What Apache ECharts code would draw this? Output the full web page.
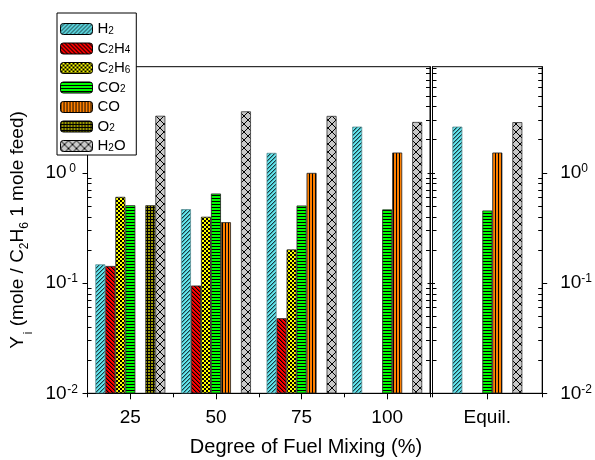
<!DOCTYPE html>
<html>
<head>
<meta charset="utf-8">
<script src="https://cdn.jsdelivr.net/npm/echarts@6/dist/echarts.min.js"></script>
<style>html,body{margin:0;padding:0;background:#fff}#c{width:595px;height:460px}</style>
</head>
<body>
<div id="c"></div>
<script>
// ---- data (last element of each species array = "Equil.") ----
const categories = ['25', '50', '75', '100'];
const equilCategories = ['Equil.'];
const species = ['H2', 'C2H4', 'C2H6', 'CO2', 'CO', 'O2', 'H2O'];
const H2   = [0.148, 0.469, 1.52, 2.63, 2.63];
const C2H4 = [0.143, 0.095, 0.048, null, null];
const C2H6 = [0.606, 0.40, 0.202, null, null];
const CO2  = [0.509, 0.65, 0.506, 0.466, 0.456];
const CO   = [null, 0.357, 1.0, 1.53, 1.53];
const O2   = [0.509, null, null, null, null];
const H2O  = [3.30, 3.62, 3.29, 2.90, 2.89];
const majorExponents = [-2, -1, 0];
const yMin = 0.01, yMax = 9.2;

const values = {H2, C2H4, C2H6, CO2, CO, O2, H2O};

// ---- patterns ----
function pattern(bg, size, draw) {
  const c = document.createElement('canvas');
  c.width = size; c.height = size;
  const ctx = c.getContext('2d');
  ctx.fillStyle = bg; ctx.fillRect(0, 0, size, size);
  ctx.fillStyle = '#000'; ctx.strokeStyle = '#000';
  draw(ctx, size);
  return {image: c, repeat: 'repeat'};
}
const fills = {
  H2: pattern('#62E6EF', 4, (x, s) => { x.fillStyle='#1b3b40'; for (let i = 0; i < s; i++) x.fillRect(i, s - 1 - i, 1, 1); x.fillStyle='rgba(0,0,0,0.3)'; for (let i = 0; i < s; i++) x.fillRect((i+1)%s, s - 1 - i, 1, 1); }),
  C2H4: pattern('#FF0000', 4, (x, s) => { for (let i = 0; i < s; i++) x.fillRect(i, i, 1, 1); x.fillStyle='rgba(0,0,0,0.35)'; for (let i = 0; i < s; i++) x.fillRect((i+1)%s, i, 1, 1); }),
  C2H6: pattern('#FFFF00', 4, (x, s) => { x.fillRect(0, 0, 2, 2); x.fillRect(2, 2, 2, 2); }),
  CO2: pattern('#00FF00', 3, (x, s) => { x.fillRect(0, 0, s, 1); }),
  CO: pattern('#FF8000', 3, (x, s) => { x.fillRect(0, 0, 1, s); }),
  O2: pattern('#9C9A00', 3, (x, s) => { x.fillRect(0, 0, s, 1); x.fillRect(0, 0, 1, s); }),
  H2O: pattern('#C8C8C8', 8, (x, s) => { x.lineWidth = 1; x.beginPath(); x.moveTo(0, 0); x.lineTo(s, s); x.moveTo(s, 0); x.lineTo(0, s); x.stroke(); })
};
const borders = {H2: '#5a8f94', C2H4: '#222', C2H6: '#222', CO2: '#222', CO: '#222', O2: '#222', H2O: '#333'};

const FONT = 'Liberation Sans, Arial, sans-serif';
const lg = v => Math.log10(v);
const minorLog = [];
majorExponents.forEach(e => { for (let m = 2; m <= 9; m++) { const v = m * Math.pow(10, e); if (v <= yMax) minorLog.push(lg(v)); } });

const grids = [
  {left: 82.7, top: 66.7, width: 347.3, height: 326.6, show: true, borderColor: '#000', borderWidth: 1, backgroundColor: 'transparent'},
  {left: 432.5, top: 66.7, width: 110.8, height: 326.6, show: true, borderColor: '#000', borderWidth: 1, backgroundColor: 'transparent'}
];

const lineStyle = {color: '#000', width: 1};
function xAx(grid, data, centerTicks) {
  return {
    type: 'category', gridIndex: grid, data: data, position: 'bottom',
    axisLine: {show: centerTicks, onZero: false, lineStyle},
    axisTick: {show: true, alignWithLabel: centerTicks, length: centerTicks ? 6 : 4, lineStyle},
    axisLabel: {show: centerTicks, fontSize: 19, fontFamily: FONT, color: '#000', margin: 15},
    splitLine: {show: false}
  };
}
const labelRich = {
  b: {fontSize: 19, fontFamily: FONT, color: '#000'},
  p: {fontSize: 12, fontFamily: FONT, color: '#000', verticalAlign: 'top', width: 12, align: 'left', padding: [0, 0, 8, 0]}
};
function decoAxis(grid, pos, major, labels) {
  const ax = {
    type: 'value', gridIndex: grid, position: pos, min: lg(yMin), max: lg(yMax),
    axisLine: {show: major, onZero: false, lineStyle},
    axisTick: {show: true, inside: !major, length: major ? 5 : 4, lineStyle, customValues: major ? majorExponents : minorLog},
    axisLabel: {show: false},
    splitLine: {show: false}
  };
  if (labels) {
    ax.axisLabel = {
      show: true, customValues: majorExponents, margin: pos === 'left' ? 9 : 18,
      formatter: v => '{b|10}{p|' + Math.round(v) + '}', rich: labelRich
    };
  }
  return ax;
}
function logAxis(grid) {
  return {type: 'log', logBase: 10, gridIndex: grid, min: yMin, max: yMax, startValue: yMin, show: false, splitLine: {show: false}};
}

const yAxis = [
  logAxis(0), logAxis(1),
  Object.assign(decoAxis(0, 'left', true, true), {
    name: '{a|Y}{i|i}{a| (mole / C}{s|2}{a|H}{s|6}{a| 1 mole feed)}',
    nameLocation: 'middle', nameGap: 48,
    nameTextStyle: {rich: {
      a: {fontSize: 19, fontFamily: FONT, color: '#000', lineHeight: 22},
      i: {fontSize: 12, fontFamily: FONT, color: '#000', verticalAlign: 'bottom', lineHeight: 22, padding: [0, 0, -6, 2]},
      s: {fontSize: 12, fontFamily: FONT, color: '#000', verticalAlign: 'bottom', lineHeight: 22, padding: [0, 0, -2, 0]}
    }}
  }),
  decoAxis(0, 'left', false, false),
  decoAxis(0, 'right', true, false),
  decoAxis(0, 'right', false, false),
  decoAxis(1, 'left', true, false),
  decoAxis(1, 'left', false, false),
  decoAxis(1, 'right', true, true),
  decoAxis(1, 'right', false, false)
];

const series = [];
species.forEach(name => {
  const vals = values[name];
  [0, 1].forEach(g => {
    series.push({
      name: name, type: 'bar', xAxisIndex: g === 0 ? 0 : 2, yAxisIndex: g,
      data: g === 0 ? vals.slice(0, categories.length) : vals.slice(categories.length),
      barWidth: 10, barGap: '0%',
      itemStyle: {color: fills[name], borderColor: borders[name], borderWidth: 0.8},
      emphasis: {disabled: true}, animation: false
    });
  });
});

const legendRich = {
  n: {fontSize: 15, fontFamily: FONT, color: '#000', lineHeight: 14},
  s: {fontSize: 10, fontFamily: FONT, color: '#000', lineHeight: 14, verticalAlign: 'bottom'}
};

const option = {
  animation: false,
  backgroundColor: '#fff',
  grid: grids,
  xAxis: [xAx(0, categories, true), xAx(0, categories, false), xAx(1, equilCategories, true), xAx(1, equilCategories, false)],
  yAxis: yAxis,
  series: series,
  legend: {
    data: species, orient: 'vertical', left: 57, top: 13,
    padding: [8.5, 6, 1.5, 3], itemWidth: 32, itemHeight: 11, itemGap: 4.5,
    backgroundColor: '#fff', borderColor: '#000', borderWidth: 1, borderRadius: 0,
    itemStyle: {borderColor: '#000', borderWidth: 1},
    selectedMode: false,
    formatter: nm => '{n|' + nm.replace(/(\d)/g, '}{s|$1}{n|') + '}',
    textStyle: {rich: legendRich}
  },
  graphic: [{
    type: 'text', x: 306, y: 447,
    style: {text: 'Degree of Fuel Mixing (%)', fontSize: 20, fontFamily: FONT, fill: '#000', textAlign: 'center', textVerticalAlign: 'middle'}
  }]
};

const chart = echarts.init(document.getElementById('c'), null, {renderer: 'canvas'});
chart.setOption(option);
</script>
</body>
</html>
